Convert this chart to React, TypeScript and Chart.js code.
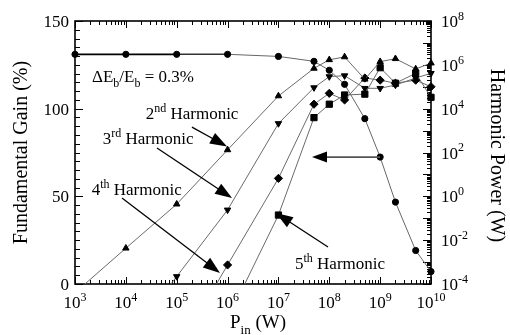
import React, { useEffect, useRef } from 'react';
import { Chart, registerables } from 'chart.js';

Chart.register(...registerables);

// ---- Data ----
const PIN = [1e3, 1e4, 1e5, 1e6, 1e7, 5e7, 1e8, 2e8, 5e8, 1e9, 2e9, 5e9, 1e10];
const FUND_GAIN = [131, 131, 131, 131, 129.8, 127, 121.9, 113.9, 94.3, 72.4, 46.7, 19.1, 7.1];

const H2_PIN = [1e3, 1e4, 1e5, 1e6, 1e7, 5e7, 1e8, 2e8, 5e8, 1e9, 2e9, 5e9, 1e10];
const H2_POWER = [4e-5, 4.3e-3, 0.44, 132, 3.8e4, 6.9e5, 1.7e6, 2.3e6, 2.2e5, 1.4e6, 1.9e6, 6.5e5, 1.2e6];

const H3_PIN = [1e4, 1e5, 1e6, 1e7, 5e7, 1e8, 2e8, 5e8, 1e9, 2e9, 5e9, 1e10];
const H3_POWER = [2e-7, 2.2e-4, 0.24, 2.1e3, 9.1e4, 2.9e5, 3.2e5, 8.5e4, 8.5e4, 1.2e5, 2.5e5, 4.1e5];

const H4_PIN = [1e5, 1e6, 1e7, 5e7, 1e8, 2e8, 5e8, 1e9, 2e9, 5e9, 1e10];
const H4_POWER = [8e-8, 7.4e-4, 6.6, 1.6e4, 5e4, 2.5e4, 2.5e5, 2e5, 1.45e5, 2e5, 1e5];

const H5_PIN = [1e6, 1e7, 5e7, 1e8, 2e8, 5e8, 1e9, 2e9, 5e9, 1e10];
const H5_POWER = [2.5e-6, 0.14, 3.9e3, 1.6e4, 4.2e4, 4.6e4, 7.4e5, 1.45e5, 4.1e5, 3.3e4];

// tick labels
const X_TICK_EXPONENTS = [3, 4, 5, 6, 7, 8, 9, 10];
const LEFT_TICKS = [0, 50, 100, 150];
const RIGHT_TICK_EXPONENTS = [-4, -2, 0, 2, 4, 6, 8];

const F = '"Liberation Serif", "Times New Roman", serif';

type Part = { t: string; s?: 'sup' | 'sub' };

function drawRich(ctx: CanvasRenderingContext2D, parts: Part[], x: number, y: number, size: number, align: 'left' | 'center' | 'right', small?: number) {
  const sm = small ?? size * 0.7;
  let total = 0;
  const ws = parts.map((p) => {
    ctx.font = `${p.s ? sm : size}px ${F}`;
    const w = ctx.measureText(p.t).width;
    total += w;
    return w;
  });
  let cx = align === 'left' ? x : align === 'center' ? x - total / 2 : x - total;
  ctx.textAlign = 'left';
  ctx.textBaseline = 'alphabetic';
  parts.forEach((p, i) => {
    ctx.font = `${p.s ? sm : size}px ${F}`;
    const dy = p.s === 'sup' ? -size * 0.42 : p.s === 'sub' ? size * 0.3 : 0;
    ctx.fillText(p.t, cx, y + dy);
    cx += ws[i];
  });
}

function drawArrow(ctx: CanvasRenderingContext2D, x1: number, y1: number, x2: number, y2: number, lineColor: string, lw: number, hl: number, hw: number) {
  const a = Math.atan2(y2 - y1, x2 - x1);
  const bx = x2 - hl * Math.cos(a);
  const by = y2 - hl * Math.sin(a);
  ctx.strokeStyle = lineColor;
  ctx.lineWidth = lw;
  ctx.beginPath();
  ctx.moveTo(x1, y1);
  ctx.lineTo(bx + 2 * Math.cos(a), by + 2 * Math.sin(a));
  ctx.stroke();
  ctx.fillStyle = '#000';
  ctx.beginPath();
  ctx.moveTo(x2, y2);
  ctx.lineTo(bx + hw * Math.sin(a), by - hw * Math.cos(a));
  ctx.lineTo(bx - hw * Math.sin(a), by + hw * Math.cos(a));
  ctx.closePath();
  ctx.fill();
}

// annotation anchors in data space: [log10(Pin), gain %]
const TEXT_NOTES: { at: [number, number]; parts: Part[] }[] = [
  { at: [3.334, 115.2], parts: [{ t: 'ΔE' }, { t: 'b', s: 'sub' }, { t: '/E' }, { t: 'b', s: 'sub' }, { t: ' = 0.3%' }] },
  { at: [4.39, 94.1], parts: [{ t: '2' }, { t: 'nd', s: 'sup' }, { t: ' Harmonic' }] },
  { at: [3.545, 79.8], parts: [{ t: '3' }, { t: 'rd', s: 'sup' }, { t: ' Harmonic' }] },
  { at: [3.328, 50.8], parts: [{ t: '4' }, { t: 'th', s: 'sup' }, { t: ' Harmonic' }] },
  { at: [7.326, 8.6], parts: [{ t: '5' }, { t: 'th', s: 'sup' }, { t: ' Harmonic' }] },
];
const ARROW_NOTES: { from: [number, number]; to: [number, number]; color: string; hl: number; hw: number }[] = [
  { from: [5.3, 89.5], to: [5.989, 78.4], color: '#000', hl: 17, hw: 6 },
  { from: [4.612, 77.6], to: [6.087, 49.0], color: '#000', hl: 17, hw: 6 },
  { from: [3.924, 49.0], to: [5.851, 6.3], color: '#000', hl: 17, hw: 6 },
  { from: [7.975, 21.1], to: [6.952, 40.5], color: '#000', hl: 17, hw: 6 },
  { from: [8.997, 72.4], to: [7.66, 72.4], color: '#555', hl: 15, hw: 5.5 },
];

const framePlugin = {
  id: 'frameAxes',
  beforeDatasetsDraw(chart: any) {
    const { ctx, chartArea: ca, scales } = chart;
    const xs = scales.x, ys = scales.y, y2 = scales.y2;
    ctx.save();
    ctx.strokeStyle = '#000';
    ctx.lineWidth = 1;
    ctx.beginPath();
    // x ticks (bottom + top)
    for (let e = 3; e <= 10; e++) {
      for (let m = 1; m <= 9; m++) {
        if (e === 10 && m > 1) break;
        const px = Math.round(xs.getPixelForValue(m * Math.pow(10, e))) + 0.5;
        const len = m === 1 ? 7 : 4;
        ctx.moveTo(px, ca.bottom);
        ctx.lineTo(px, ca.bottom - len);
        ctx.moveTo(px, ca.top);
        ctx.lineTo(px, ca.top + len);
      }
    }
    // left ticks
    for (let v = 0; v <= 150; v += 5) {
      const py = Math.round(ys.getPixelForValue(v)) + 0.5;
      const len = v % 50 === 0 ? 8 : 5;
      ctx.moveTo(ca.left, py);
      ctx.lineTo(ca.left + len, py);
    }
    // right ticks
    for (let e = -4; e <= 8; e++) {
      for (let m = 1; m <= 9; m++) {
        if (e === 8 && m > 1) break;
        const py = Math.round(y2.getPixelForValue(m * Math.pow(10, e))) + 0.5;
        const len = m === 1 ? 8 : 4;
        ctx.moveTo(ca.right, py);
        ctx.lineTo(ca.right - len, py);
      }
    }
    ctx.stroke();
    ctx.lineWidth = 1.6;
    ctx.strokeRect(ca.left, ca.top, ca.right - ca.left, ca.bottom - ca.top);
    ctx.restore();
  },
  afterDraw(chart: any) {
    const { ctx, chartArea: ca, scales } = chart;
    const xs = scales.x, ys = scales.y, y2 = scales.y2;
    ctx.save();
    ctx.fillStyle = '#000';
    // x tick labels
    X_TICK_EXPONENTS.forEach((e) => {
      const px = xs.getPixelForValue(Math.pow(10, e));
      drawRich(ctx, [{ t: '10' }, { t: String(e), s: 'sup' }], px, ca.bottom + 24, 17, 'center', 12);
    });
    // left tick labels
    LEFT_TICKS.forEach((v) => {
      const py = ys.getPixelForValue(v);
      drawRich(ctx, [{ t: String(v) }], ca.left - 6, py + 6, 17, 'right');
    });
    // right tick labels
    RIGHT_TICK_EXPONENTS.forEach((e) => {
      const py = y2.getPixelForValue(Math.pow(10, e));
      drawRich(ctx, [{ t: '10' }, { t: String(e), s: 'sup' }], ca.right + 10, py + 6, 17, 'left', 12);
    });
    // axis titles
    drawRich(ctx, [{ t: 'P' }, { t: 'in', s: 'sub' }, { t: ' (W)' }], (ca.left + ca.right) / 2 + 5, ca.bottom + 44, 19, 'center', 13);
    ctx.save();
    ctx.translate(20, (ca.top + ca.bottom) / 2);
    ctx.rotate(-Math.PI / 2);
    drawRich(ctx, [{ t: 'Fundamental Gain (%)' }], 0, 6.5, 20, 'center');
    ctx.restore();
    ctx.save();
    ctx.translate(497, (ca.top + ca.bottom) / 2 + 3);
    ctx.rotate(Math.PI / 2);
    drawRich(ctx, [{ t: 'Harmonic Power (W)' }], 0, 6.5, 20, 'center');
    ctx.restore();

    const P = (a: [number, number]) => [xs.getPixelForValue(Math.pow(10, a[0])), ys.getPixelForValue(a[1])];
    TEXT_NOTES.forEach((n) => {
      const [x, y] = P(n.at);
      drawRich(ctx, n.parts, x, y, 17, 'left', 12);
    });
    ARROW_NOTES.forEach((a) => {
      const [x1, y1] = P(a.from);
      const [x2, y2p] = P(a.to);
      drawArrow(ctx, x1, y1, x2, y2p, a.color, a.color === '#000' ? 1.3 : 1.8, a.hl, a.hw);
    });
    ctx.restore();
  },
};

const CLIP = { left: 8, right: 8, top: 8, bottom: 0 };

export default function App() {
  const ref = useRef<HTMLCanvasElement | null>(null);
  useEffect(() => {
    if (!ref.current) return;
    const mk = (xs: number[], ys: number[]) => xs.map((x, i) => ({ x, y: ys[i] }));
    const harmonic = (label: string, xs: number[], ys: number[], style: string, radius: number, rotation = 0) => ({
      label,
      data: mk(xs, ys),
      yAxisID: 'y2',
      borderColor: '#6a6a6a',
      borderWidth: 1,
      pointStyle: style,
      pointRadius: radius,
      pointRotation: rotation,
      pointBackgroundColor: '#000',
      pointBorderColor: '#000',
      pointBorderWidth: 1,
      clip: CLIP,
    });
    const chart = new Chart(ref.current, {
      type: 'line',
      data: {
        datasets: [
          harmonic('2nd Harmonic', H2_PIN, H2_POWER, 'triangle', 3.7),
          harmonic('3rd Harmonic', H3_PIN, H3_POWER, 'triangle', 3.7, 180),
          harmonic('4th Harmonic', H4_PIN, H4_POWER, 'rectRot', 4.1),
          harmonic('5th Harmonic', H5_PIN, H5_POWER, 'rect', 4.4),
          {
            label: 'Fundamental Gain',
            data: mk(PIN, FUND_GAIN),
            yAxisID: 'y',
            borderColor: '#666',
            borderWidth: 1,
            segment: {
              borderColor: (c: any) => (c.p0DataIndex < 2 ? '#000' : c.p0DataIndex === 2 ? '#333' : '#666'),
              borderWidth: (c: any) => (c.p0DataIndex < 2 ? 1.8 : c.p0DataIndex === 2 ? 1.4 : 1),
            },
            pointStyle: 'circle',
            pointRadius: 3.1,
            pointBackgroundColor: '#000',
            pointBorderColor: '#000',
            pointBorderWidth: 1,
            clip: CLIP,
          } as any,
        ],
      },
      options: {
        responsive: false,
        animation: false,
        events: [],
        layout: { padding: { left: 75, right: 79, top: 21, bottom: 51 } },
        plugins: { legend: { display: false }, tooltip: { enabled: false } },
        scales: {
          x: { type: 'logarithmic', min: 1e3, max: 1e10, display: false },
          y: { type: 'linear', min: 0, max: 150, display: false },
          y2: { type: 'logarithmic', min: 1e-4, max: 1e8, display: false },
        },
      },
      plugins: [framePlugin],
    } as any);
    return () => chart.destroy();
  }, []);
  return (
    <div style={{ position: 'fixed', left: 0, top: 0, width: 510, height: 335, background: '#fff' }}>
      <canvas ref={ref} width={510} height={335} style={{ display: 'block' }} />
    </div>
  );
}
